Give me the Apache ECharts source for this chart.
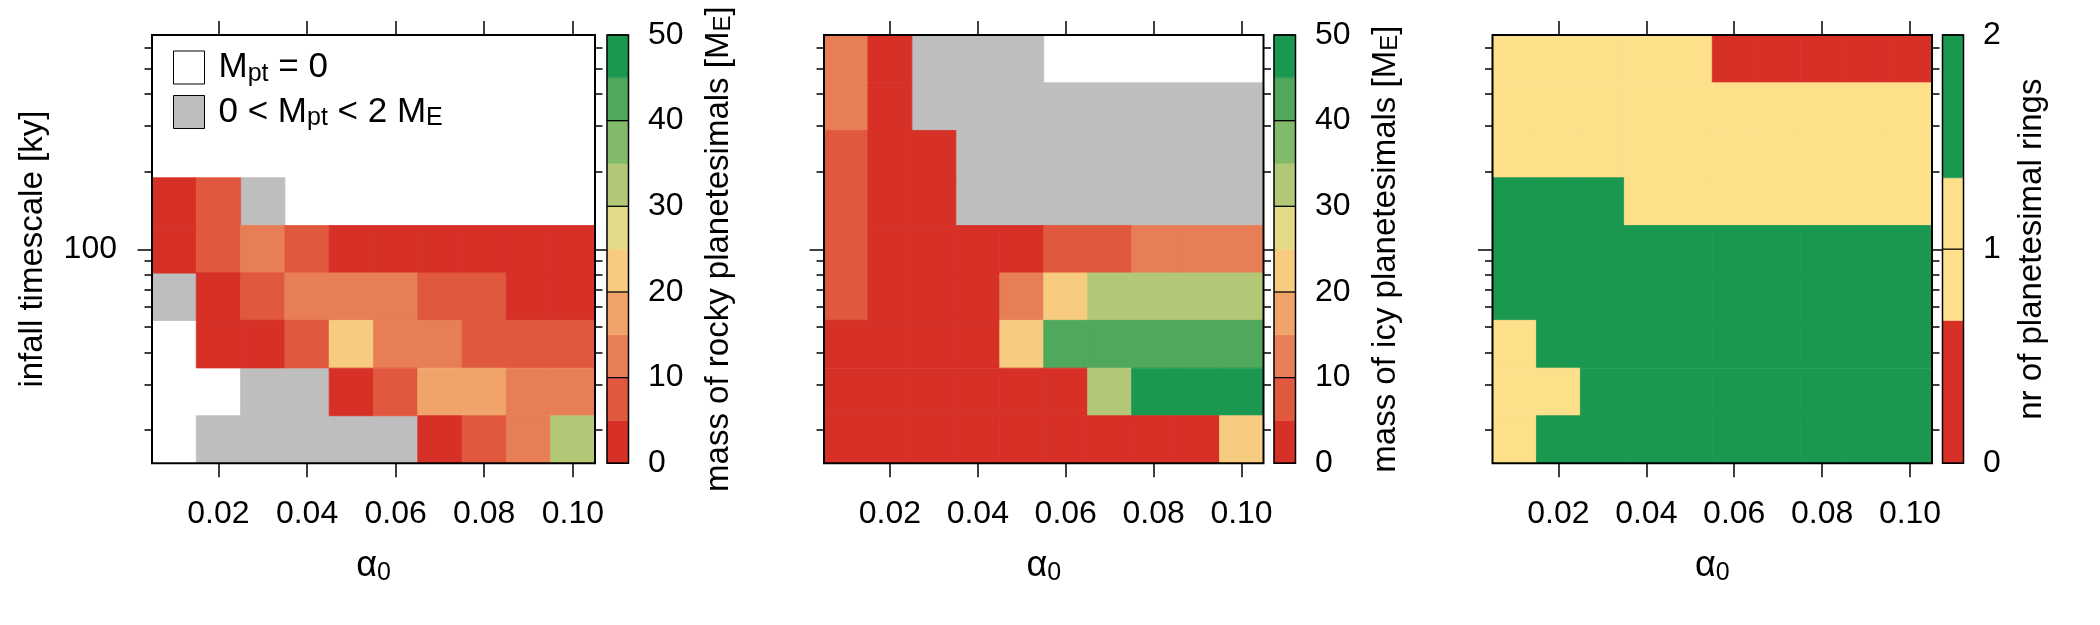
<!DOCTYPE html>
<html>
<head>
<meta charset="utf-8">
<title>planetesimal masses and rings</title>
<script src="https://cdn.jsdelivr.net/npm/echarts@6/dist/echarts.min.js"></script>
<style>
  html, body { margin: 0; padding: 0; background: #fff; }
  #chart { width: 2100px; height: 625px; }
</style>
</head>
<body>
<div id="chart"></div>
<script>
// runs: alpha0 along x, infall timescale [ky] along y (bottom to top)
var alpha0 = [0.01, 0.02, 0.03, 0.04, 0.05, 0.06, 0.07, 0.08, 0.09, 0.10];
var infall = [18.4, 28.1, 43.0, 65.6, 100, 153, 233, 356, 545];
var alphaTicks = [0.02, 0.04, 0.06, 0.08, 0.10];
var infallMinorTicks = [20, 30, 40, 50, 60, 70, 80, 90, 200, 300, 400, 500, 600];
var infallMajorTicks = [100];

// rows from top (545 ky) to bottom (18 ky); 0 = no planetesimals, 1 = less than 2 M_E
var rockyMass = [
  [0, 0, 0, 0, 0, 0, 0, 0, 0, 0],
  [0, 0, 0, 0, 0, 0, 0, 0, 0, 0],
  [0, 0, 0, 0, 0, 0, 0, 0, 0, 0],
  [3, 7, 1, 0, 0, 0, 0, 0, 0, 0],
  [3, 7, 12, 7, 3, 3, 3, 3, 3, 3],
  [1, 3, 7, 12, 12, 12, 7, 7, 3, 3],
  [0, 3, 3, 7, 22, 12, 12, 7, 7, 7],
  [0, 0, 1, 1, 3, 7, 17, 17, 12, 12],
  [0, 1, 1, 1, 1, 1, 3, 7, 12, 32]
];
var icyMass = [
  [12, 3, 1, 1, 1, 0, 0, 0, 0, 0],
  [12, 3, 1, 1, 1, 1, 1, 1, 1, 1],
  [7, 3, 3, 1, 1, 1, 1, 1, 1, 1],
  [7, 3, 3, 1, 1, 1, 1, 1, 1, 1],
  [7, 3, 3, 3, 3, 7, 7, 12, 12, 12],
  [7, 3, 3, 3, 12, 22, 32, 32, 32, 32],
  [3, 3, 3, 3, 22, 42, 42, 42, 42, 42],
  [3, 3, 3, 3, 3, 3, 32, 47, 47, 47],
  [3, 3, 3, 3, 3, 3, 3, 3, 3, 22]
];
var ringCount = [
  [1, 1, 1, 1, 1, 0, 0, 0, 0, 0],
  [1, 1, 1, 1, 1, 1, 1, 1, 1, 1],
  [1, 1, 1, 1, 1, 1, 1, 1, 1, 1],
  [2, 2, 2, 1, 1, 1, 1, 1, 1, 1],
  [2, 2, 2, 2, 2, 2, 2, 2, 2, 2],
  [2, 2, 2, 2, 2, 2, 2, 2, 2, 2],
  [1, 2, 2, 2, 2, 2, 2, 2, 2, 2],
  [1, 1, 2, 2, 2, 2, 2, 2, 2, 2],
  [1, 2, 2, 2, 2, 2, 2, 2, 2, 2]
];

// colour bar levels
var massBreaks = [0, 5, 10, 15, 20, 25, 30, 35, 40, 45, 50];
var massTicks = [0, 10, 20, 30, 40, 50];
var ringBreaks = [0, 0.667, 1.333, 2];
var ringTicks = [0, 1, 2];

var massColors = ['#d73027', '#e0583e', '#e87e56', '#f0a46a', '#f8cc80',
                  '#e4db89', '#b3c877', '#80ba6a', '#4fa85b', '#1a9850'];
var ringColors = ['#d73027', '#fee08b', '#1a9850'];
var ZERO = 'M_pt = 0';
var SMALL = '0 < M_pt < 2 M_E';
var FONT = '"Liberation Sans", Arial, Helvetica, sans-serif';

var logInfall = infall.map(function (t) { return Math.log10(t); });
var dA = alpha0[1] - alpha0[0];
var dL = logInfall[1] - logInfall[0];
var xMin = alpha0[0] - dA / 2, xMax = alpha0[alpha0.length - 1] + dA / 2;
var yMin = logInfall[0] - dL / 2, yMax = logInfall[logInfall.length - 1] + dL / 2;

var TOP = 35, HEIGHT = 428.3;
var panels = [
  { left: 152, width: 443, cbLeft: 607, cbWidth: 21.5, cbGap: 74, ylabel: true,
    data: rockyMass, breaks: massBreaks, colors: massColors, ticks: massTicks,
    title: '{m|mass of rocky planetesimals [M}{s|E}{m|]}' },
  { left: 824, width: 439.5, cbLeft: 1274, cbWidth: 21.5, cbGap: 74, ylabel: false,
    data: icyMass, breaks: massBreaks, colors: massColors, ticks: massTicks,
    title: '{m|mass of icy planetesimals [M}{s|E}{m|]}' },
  { left: 1492.5, width: 439.5, cbLeft: 1942.5, cbWidth: 21, cbGap: 52, ylabel: false,
    data: ringCount, breaks: ringBreaks, colors: ringColors, ticks: ringTicks,
    title: '{m|nr of planetesimal rings}', rings: true }
];

function levelColor(v, breaks, colors) {
  for (var i = colors.length - 1; i > 0; i--) {
    if (v >= breaks[i]) return colors[i];
  }
  return colors[0];
}

var tickLine = { color: '#000', width: 1.5 };
var tickText = { color: '#000', fontFamily: FONT, fontSize: 32 };
var titleText = { color: '#000', fontFamily: FONT, fontSize: 33 };
var subRich = {
  m: { color: '#000', fontFamily: FONT, fontSize: 33, lineHeight: 33 },
  s: { color: '#000', fontFamily: FONT, fontSize: 24, lineHeight: 11, verticalAlign: 'bottom' }
};

var grids = [], xAxes = [], yAxes = [], series = [];

panels.forEach(function (p, i) {
  grids[i] = { left: p.left, top: TOP, width: p.width, height: HEIGHT, show: true,
    borderColor: '#000', borderWidth: 2, backgroundColor: 'transparent', z: 10,
    containLabel: false, outerBoundsMode: 'none' };
  grids[3 + i] = { left: p.cbLeft, top: TOP, width: p.cbWidth, height: HEIGHT, show: true,
    borderColor: '#000', borderWidth: 1.5, backgroundColor: 'transparent', z: 10,
    containLabel: false, outerBoundsMode: 'none' };

  // bottom and top alpha axes
  xAxes[2 * i] = {
    type: 'value', gridIndex: i, position: 'bottom', min: xMin, max: xMax,
    axisLine: { show: false }, splitLine: { show: false },
    axisTick: { show: true, length: 14, lineStyle: tickLine, customValues: alphaTicks },
    axisLabel: Object.assign({ show: true, margin: 35, customValues: alphaTicks,
      formatter: function (v) { return v.toFixed(2); } }, tickText),
    name: '{a|α}{s|0}', nameLocation: 'middle', nameGap: 84, nameMoveOverlap: false,
    nameTextStyle: { rich: {
      a: { color: '#000', fontFamily: FONT, fontSize: 36, lineHeight: 38 },
      s: { color: '#000', fontFamily: FONT, fontSize: 25, lineHeight: 17, verticalAlign: 'bottom' }
    } }
  };
  xAxes[2 * i + 1] = {
    type: 'value', gridIndex: i, position: 'top', min: xMin, max: xMax,
    axisLine: { show: false }, splitLine: { show: false }, axisLabel: { show: false },
    axisTick: { show: true, length: 14, lineStyle: tickLine, customValues: alphaTicks }
  };

  // infall timescale axes (log10 of ky), minor and major ticks on both sides
  ['left', 'right'].forEach(function (side, k) {
    yAxes[4 * i + 2 * k] = {
      type: 'value', gridIndex: i, position: side, min: yMin, max: yMax,
      axisLine: { show: false }, splitLine: { show: false }, axisLabel: { show: false },
      axisTick: { show: true, length: 7.5, lineStyle: tickLine,
        customValues: infallMinorTicks.map(Math.log10) }
    };
    var major = {
      type: 'value', gridIndex: i, position: side, min: yMin, max: yMax,
      axisLine: { show: false }, splitLine: { show: false },
      axisTick: { show: true, length: 14.5, lineStyle: tickLine,
        customValues: infallMajorTicks.map(Math.log10) },
      axisLabel: { show: false }
    };
    if (side === 'left' && p.ylabel) {
      major.axisLabel = Object.assign({ show: true, margin: 35,
        customValues: infallMajorTicks.map(Math.log10),
        formatter: function (v) { return String(Math.round(Math.pow(10, v))); } }, tickText);
      major.name = 'infall timescale [ky]';
      major.nameLocation = 'middle';
      major.nameRotate = 90;
      major.nameGap = 103;
      major.nameMoveOverlap = false;
      major.nameTextStyle = Object.assign({}, titleText);
    }
    yAxes[4 * i + 2 * k + 1] = major;
  });

  // colour bar axes
  xAxes[6 + i] = { type: 'value', gridIndex: 3 + i, min: 0, max: 1, show: false };
  yAxes[12 + i] = {
    type: 'value', gridIndex: 3 + i, position: 'right', z: 10,
    min: p.breaks[0], max: p.breaks[p.breaks.length - 1],
    axisLine: { show: false }, splitLine: { show: false }, axisTick: { show: false },
    axisLabel: Object.assign({ show: true, margin: 19.5, customValues: p.ticks }, tickText),
    name: p.title, nameLocation: 'middle', nameRotate: 90, nameGap: p.cbGap, nameMoveOverlap: false,
    nameTextStyle: { rich: subRich }
  };

  // cells
  function cells(name, pick, fill, extra) {
    var data = [];
    p.data.forEach(function (row, r) {
      var ly = logInfall[logInfall.length - 1 - r];
      row.forEach(function (v, c) {
        if (pick(v)) data.push([alpha0[c], ly, v]);
      });
    });
    return Object.assign({
      type: 'custom', name: name, xAxisIndex: 2 * i, yAxisIndex: 4 * i,
      encode: { x: 0, y: 1 }, data: data, silent: true,
      renderItem: function (params, api) {
        var a = api.value(0), l = api.value(1);
        var p0 = api.coord([a - dA / 2, l + dL / 2]);
        var p1 = api.coord([a + dA / 2, l - dL / 2]);
        var col = fill(api.value(2));
        return { type: 'rect',
          shape: { x: p0[0], y: p0[1], width: p1[0] - p0[0], height: p1[1] - p0[1] },
          style: { fill: col, stroke: col, lineWidth: 0.8 } };
      }
    }, extra || {});
  }

  if (p.rings) {
    series.push(cells('rings', function () { return true; },
      function (v) { return levelColor(v, p.breaks, p.colors); }));
  } else {
    series.push(cells(ZERO, function (v) { return v === 0; }, function () { return '#ffffff'; },
      { itemStyle: { color: '#ffffff', borderColor: '#000', borderWidth: 1 } }));
    series.push(cells(SMALL, function (v) { return v > 0 && v < 2; }, function () { return '#bebebe'; },
      { itemStyle: { color: '#bebebe', borderColor: '#000', borderWidth: 1 } }));
    series.push(cells(i === 0 ? 'rocky' : 'icy', function (v) { return v >= 2; },
      function (v) { return levelColor(v, p.breaks, p.colors); }));
  }

  // colour bar bands and the tick lines across them
  var bands = [];
  for (var b = 0; b < p.breaks.length - 1; b++) {
    bands.push([0.5, p.breaks[b], p.breaks[b + 1], b]);
  }
  series.push({
    type: 'custom', name: 'colorbar' + i, xAxisIndex: 6 + i, yAxisIndex: 12 + i,
    encode: { x: 0, y: [1, 2] }, data: bands, silent: true,
    renderItem: function (params, api) {
      var q0 = api.coord([0, api.value(2)]);
      var q1 = api.coord([1, api.value(1)]);
      var col = p.colors[api.value(3)];
      return { type: 'rect',
        shape: { x: q0[0], y: q0[1], width: q1[0] - q0[0], height: q1[1] - q0[1] },
        style: { fill: col, stroke: col, lineWidth: 0.5 } };
    }
  });
  series.push({
    type: 'custom', name: 'colorbarTicks' + i, xAxisIndex: 6 + i, yAxisIndex: 12 + i, z: 5,
    encode: { x: 0, y: 1 }, data: p.ticks.map(function (t) { return [0.5, t]; }), silent: true,
    renderItem: function (params, api) {
      var q0 = api.coord([0, api.value(1)]);
      var q1 = api.coord([1, api.value(1)]);
      return { type: 'line', shape: { x1: q0[0], y1: q0[1], x2: q1[0], y2: q1[1] },
        style: { stroke: '#000', lineWidth: 1.3 } };
    }
  });
});

var option = {
  animation: false,
  backgroundColor: '#fff',
  textStyle: { fontFamily: FONT },
  grid: grids,
  xAxis: xAxes,
  yAxis: yAxes,
  legend: {
    orient: 'vertical', left: 173, top: 50, padding: 0,
    itemWidth: 31, itemHeight: 33, itemGap: 8, icon: 'rect', selectedMode: false,
    data: [
      { name: ZERO, itemStyle: { color: '#ffffff', borderColor: '#000', borderWidth: 1 } },
      { name: SMALL, itemStyle: { color: '#bebebe', borderColor: '#000', borderWidth: 1 } }
    ],
    formatter: function (name) {
      return name === ZERO ? '{g|}{m|M}{s|pt}{m| = 0}' : '{g|}{m|0 < M}{s|pt}{m| < 2 M}{s|E}';
    },
    textStyle: { rich: {
      g: { width: 9 },
      m: { color: '#000', fontFamily: FONT, fontSize: 35, lineHeight: 38 },
      s: { color: '#000', fontFamily: FONT, fontSize: 25, lineHeight: 17, verticalAlign: 'bottom' }
    } }
  },
  series: series
};

var chart = echarts.init(document.getElementById('chart'), null, { renderer: 'canvas' });
chart.setOption(option);
</script>
</body>
</html>
